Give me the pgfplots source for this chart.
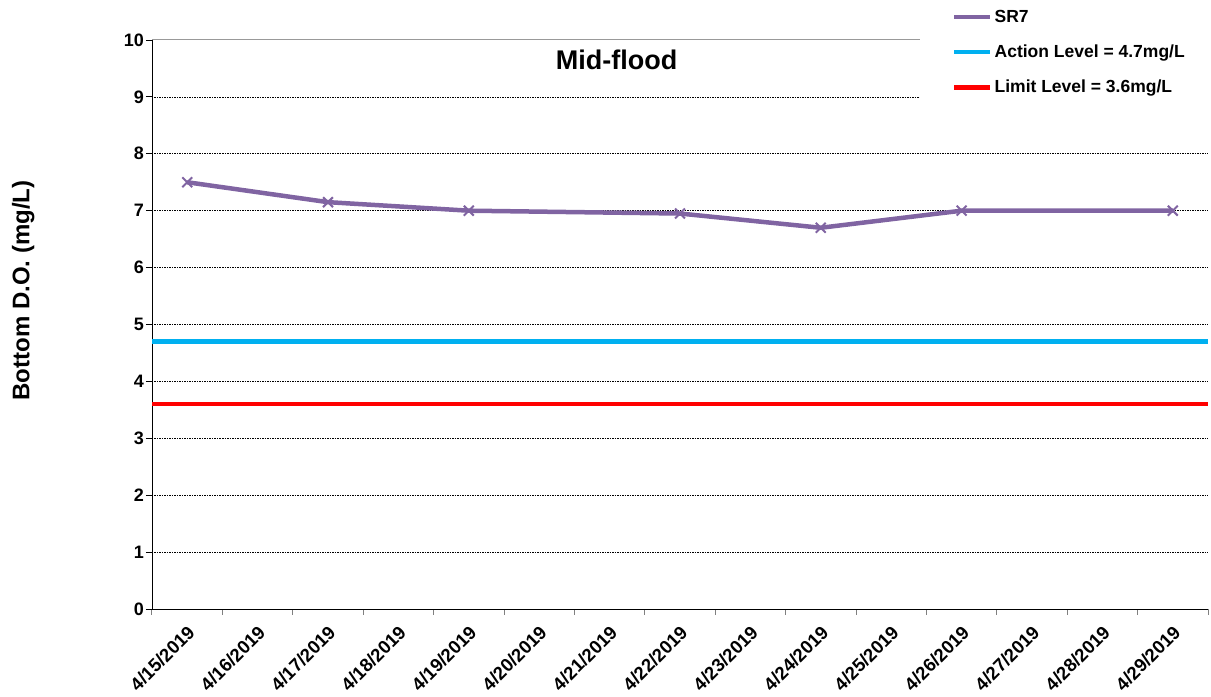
\documentclass[border=0pt]{standalone}
\usepackage{pgfplots}
\pgfplotsset{compat=1.18}
\usepackage{fontspec}
\setmainfont{Liberation Sans}
\definecolor{srpurple}{RGB}{128,100,162}
\definecolor{actcyan}{RGB}{0,176,240}
\definecolor{limred}{RGB}{255,0,0}
\newcommand{\fs}[1]{\fontsize{#1}{#1}\selectfont\bfseries}
\begin{document}
\begin{tikzpicture}
\begin{axis}[
  scale only axis,
  width=1056pt, height=569pt,
  xmin=-0.5, xmax=14.5,
  ymin=0, ymax=10,
  axis x line*=bottom, axis y line*=left,
  axis line style={-, black, line width=0.8pt},
  xtick={0,...,14},
  xticklabels={4/15/2019,4/16/2019,4/17/2019,4/18/2019,4/19/2019,4/20/2019,4/21/2019,4/22/2019,4/23/2019,4/24/2019,4/25/2019,4/26/2019,4/27/2019,4/28/2019,4/29/2019},
  major x tick style={draw=none},
  minor xtick={-0.5,0.5,...,14.5},
  minor x tick style={gray, line width=1pt},
  minor tick length=6pt,
  xtick pos=bottom, ytick pos=left,
  tick align=outside,
  xticklabel style={font=\fs{18.5}, rotate=45, anchor=north east, inner sep=0pt, xshift=-7pt, yshift=-6pt},
  ytick={0,...,9},
  extra y ticks={10},
  extra y tick style={ymajorgrids=true, major grid style={solid, gray!80, line width=1pt}},
  yticklabel style={font=\fs{18}, inner sep=2pt},
  major tick length=6pt,
  major y tick style={black, line width=0.8pt},
  /pgf/number format/assume math mode=true,
  ymajorgrids,
  major grid style={black, line width=0.6pt, dash pattern=on 1.5pt off 1pt},
  ylabel={Bottom D.O. (mg/L)},
  ylabel style={font=\fs{24}, at={(axis description cs:-0.122,0.56)}, anchor=center, rotate=0},
  legend style={font=\fs{17.5}, at={(axis description cs:0.7575,1.056)}, anchor=north west,
    fill=none, draw=none, inner xsep=0pt, inner ysep=0pt, row sep=17pt,
    /tikz/every even column/.append style={column sep=0pt}},
  legend cell align=left,
  legend image code/.code={\draw[#1] (0pt,0pt) -- (36pt,0pt);},
  clip=false,
]
\fill[white] (axis description cs:0.727,0.87) rectangle (axis description cs:1.001,1.06);
\addplot[srpurple, line width=4.5pt, mark=x, mark size=7pt, mark options={line width=2pt}]
  coordinates {(0,7.5) (2,7.15) (4,7.0) (7,6.95) (9,6.7) (11,7.0) (14,7.0)};
\addlegendentry{SR7}
\addplot[actcyan, line width=4.5pt] coordinates {(-0.5,4.7) (14.5,4.7)};
\addlegendentry{Action Level = 4.7mg/L}
\addplot[limred, line width=4.5pt] coordinates {(-0.5,3.6) (14.5,3.6)};
\addlegendentry{Limit Level = 3.6mg/L}
\node[font=\fs{27}] at (axis description cs:0.44,0.965) {Mid-flood};
\end{axis}
\path ([shift={(-152pt,-88pt)}]current axis.south west) rectangle ([shift={(3pt,40pt)}]current axis.north east);
\end{tikzpicture}
\end{document}
